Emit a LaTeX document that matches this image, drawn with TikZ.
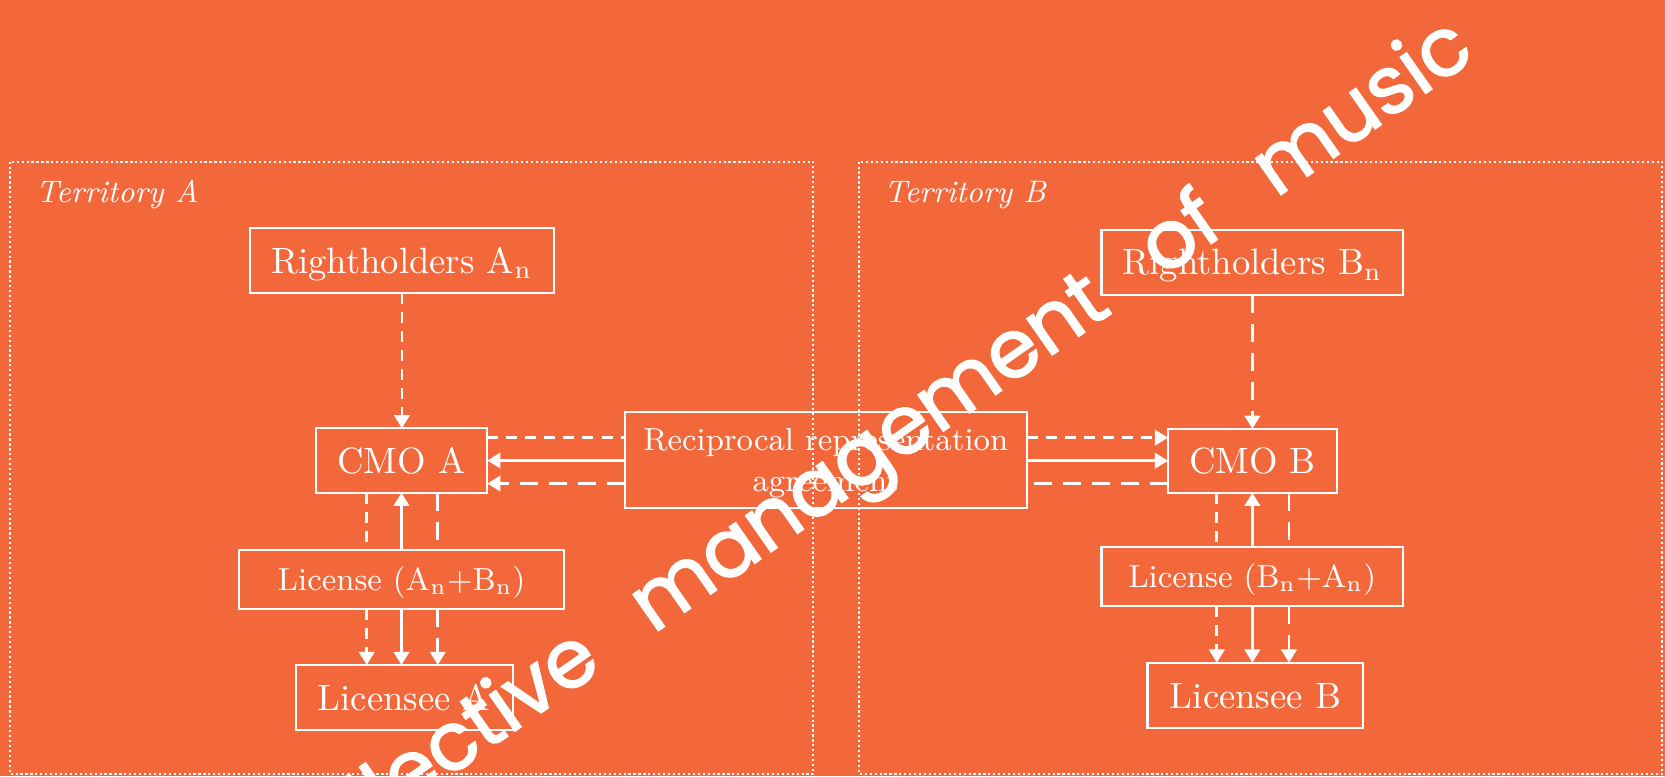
\documentclass[tikz,border=0pt]{standalone}
\usepackage{fontspec}
\newfontfamily\handfont[WordSpace=2.8,FakeBold=2]{Poppins}
\usetikzlibrary{arrows.meta,calc}
\definecolor{bgorange}{RGB}{243,104,59}

\begin{document}
\begin{tikzpicture}[x=0.29pt,y=-0.29pt,
  box/.style={draw=white, line width=0.6pt, inner sep=0pt, outer sep=0pt,
    text=white, font=\fontsize{10}{12}\selectfont, text height=6.83pt, text depth=0pt},
  smallbox/.style={box, font=\fontsize{8.7}{11}\selectfont, text height=5.94pt},
  conn/.style={white, line width=0.75pt},
  tip/.style={-{Triangle[length=3.6pt,width=4.2pt]}},
  shortdash/.style={dash pattern=on 3pt off 2.2pt},
  longdash/.style={dash pattern=on 5pt off 2.9pt},
  territory/.style={draw=white, line width=0.55pt, dash pattern=on 0.6pt off 0.75pt},
  tlabel/.style={text=white, font=\fontsize{8.5}{10}\selectfont\itshape,
    inner sep=0pt, anchor=base west}
]
\path[use as bounding box] (0,0) rectangle (1568,731);
\clip (0,0) rectangle (1568,731);
\fill[bgorange] (0,0) rectangle (1568,731);

% territories
\draw[territory] (9.7,152.2) rectangle (765.8,729.2);
\draw[territory] (809.4,152.2) rectangle (1565.5,729.2);
\node[tlabel] (tA) at (33,191) {Territory A};
\node[tlabel] (tB) at (832,191) {Territory B};

% territory A
\node[box, minimum width=82.94pt, minimum height=17.69pt] (RA) at (378.5,245.5) {Rightholders A$_{\mathrm{n}}$};
\node[box, minimum width=46.86pt, minimum height=17.57pt] (CMOA) at (378.1,433.7) {CMO A};
\node[smallbox, minimum width=88.86pt, minimum height=16.01pt] (LA) at (378.2,545.9) {License (A$_{\mathrm{n}}$+B$_{\mathrm{n}}$)};
\node[box, minimum width=59.28pt, minimum height=17.78pt] (LeA) at (380.6,656.9) {Licensee A};

% territory B
\node[box, minimum width=82.36pt, minimum height=17.75pt] (RB) at (1179.4,247.2) {Rightholders B$_{\mathrm{n}}$};
\node[box, minimum width=46.05pt, minimum height=17.49pt] (CMOB) at (1179.4,433.9) {CMO B};
\node[smallbox, minimum width=82.24pt, minimum height=15.95pt] (LB) at (1179.2,542.9) {License (B$_{\mathrm{n}}$+A$_{\mathrm{n}}$)};
\node[box, minimum width=58.93pt, minimum height=17.95pt] (LeB) at (1182.3,655) {Licensee B};

% agreement between the two societies
\node[box, minimum width=109.68pt, minimum height=26.39pt, font=\fontsize{8.7}{11}\selectfont,
  align=center, text height=16.94pt, text depth=0pt] (Rec) at (777.7,433.2)
  {Reciprocal representation\\agreement};

% rightholders mandate their society
\draw[conn,tip,shortdash] (RA.south) -- (RA.south |- CMOA.north);
\draw[conn,tip,longdash] (RB.south) -- (RB.south |- CMOB.north);

% flows through the agreement
\draw[conn,shortdash] ([yshift=6.3pt]CMOA.east) -- ([yshift=6.3pt]CMOA.east -| Rec.west);
\draw[conn,tip] (Rec.west |- CMOA.east) -- (CMOA.east);
\draw[conn,tip,longdash] ([yshift=-6.3pt]CMOA.east -| Rec.west) -- ([yshift=-6.3pt]CMOA.east);
\draw[conn,tip,shortdash] ([yshift=6.3pt]CMOB.west -| Rec.east) -- ([yshift=6.3pt]CMOB.west);
\draw[conn,tip] (Rec.east |- CMOB.west) -- (CMOB.west);
\draw[conn,longdash] ([yshift=-6.3pt]CMOB.west) -- ([yshift=-6.3pt]CMOB.west -| Rec.east);

% licensing in territory A
\draw[conn,shortdash] ([xshift=-9.5pt]CMOA.south) -- ([xshift=-9.5pt]CMOA.south |- LA.north);
\draw[conn,tip] (CMOA.south |- LA.north) -- (CMOA.south);
\draw[conn,longdash] ([xshift=9.9pt]CMOA.south) -- ([xshift=9.9pt]CMOA.south |- LA.north);
\draw[conn,tip,shortdash] ([xshift=-9.5pt]CMOA.south |- LA.south) -- ([xshift=-9.5pt]CMOA.south |- LeA.north);
\draw[conn,tip] (CMOA.south |- LA.south) -- (CMOA.south |- LeA.north);
\draw[conn,tip,longdash] ([xshift=9.9pt]CMOA.south |- LA.south) -- ([xshift=9.9pt]CMOA.south |- LeA.north);

% licensing in territory B
\draw[conn,shortdash] ([xshift=-9.7pt]CMOB.south) -- ([xshift=-9.7pt]CMOB.south |- LB.north);
\draw[conn,tip] (CMOB.south |- LB.north) -- (CMOB.south);
\draw[conn,longdash] ([xshift=10pt]CMOB.south) -- ([xshift=10pt]CMOB.south |- LB.north);
\draw[conn,tip,shortdash] ([xshift=-9.7pt]CMOB.south |- LB.south) -- ([xshift=-9.7pt]CMOB.south |- LeB.north);
\draw[conn,tip] (CMOB.south |- LB.south) -- (CMOB.south |- LeB.north);
\draw[conn,tip,longdash] ([xshift=10pt]CMOB.south |- LB.south) -- ([xshift=10pt]CMOB.south |- LeB.north);

% slanted title across the picture
\node[text=white, font={\handfont\fontsize{22}{26}\selectfont}, rotate=35,
  anchor=base, inner sep=0pt] (motto) at (827,449) {Collective management of music};
\end{tikzpicture}
\end{document}
